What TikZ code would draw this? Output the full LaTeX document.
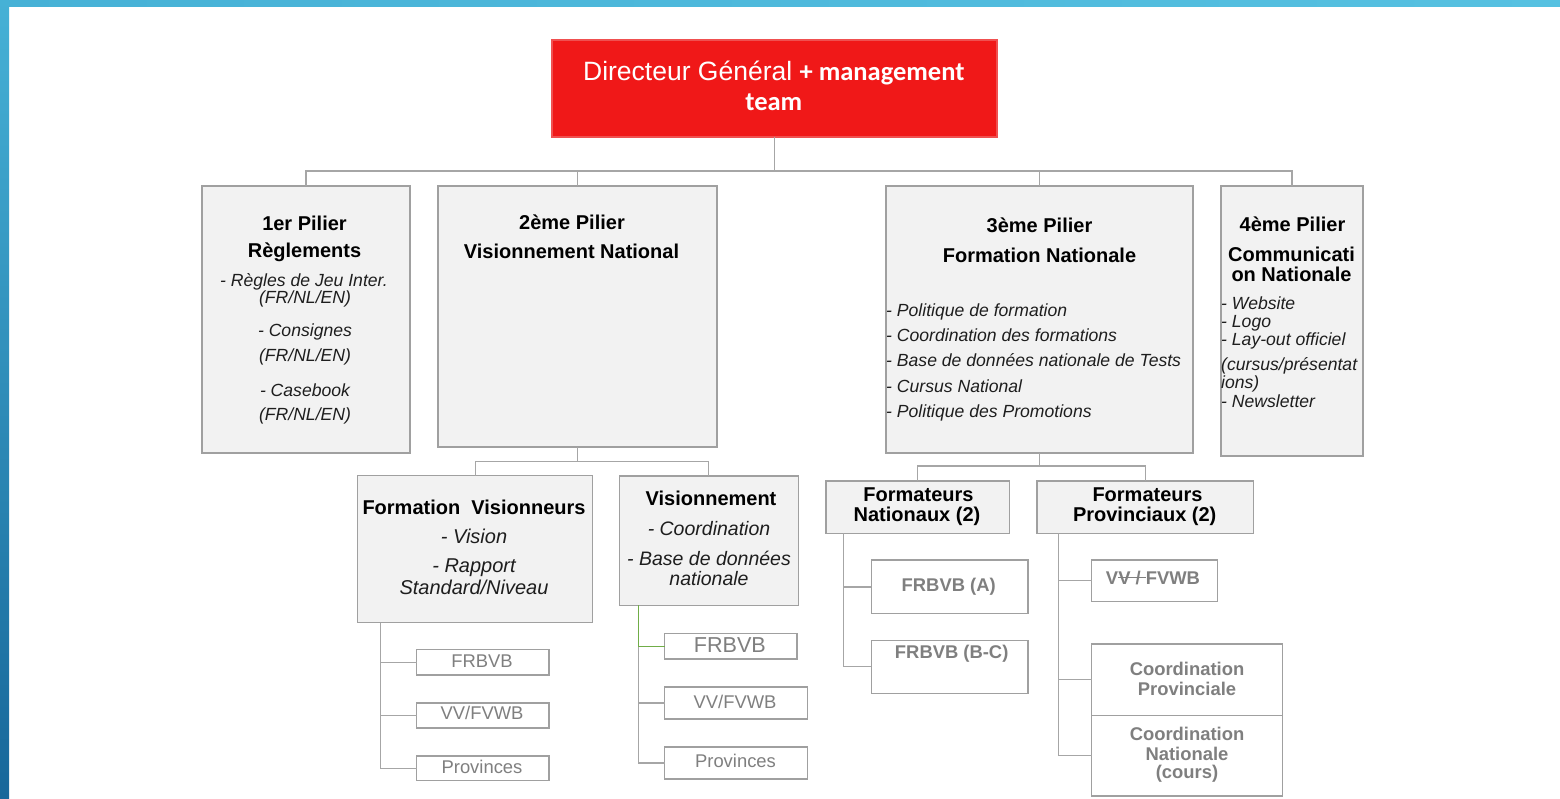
\documentclass[tikz,border=0pt]{standalone}
\usepackage{fontspec}
\setmainfont{Liberation Sans}
\newfontfamily\carlito{Carlito}
\newlength\strklen
\newcommand\strk[1]{\settowidth\strklen{#1}\rlap{\rule[0.33em]{\strklen}{0.07em}}#1}
\newcommand\fsz[1]{\fontsize{#1}{#1}\selectfont}
\definecolor{boxfill}{HTML}{F2F2F2}
\definecolor{boxline}{HTML}{A0A0A0}
\definecolor{connc}{HTML}{A6A6A6}
\definecolor{subc}{HTML}{7F7F7F}
\definecolor{listc}{HTML}{1E1E1E}
\definecolor{dgred}{HTML}{F01818}
\definecolor{dgline}{HTML}{F05050}
\definecolor{gconn}{HTML}{70AD47}
\definecolor{blueA}{HTML}{46B1D6}
\definecolor{blueB}{HTML}{56C1E1}
\definecolor{blueC}{HTML}{17679A}
\begin{document}
\begin{tikzpicture}[x=1pt,y=-1pt,
  box/.style={draw=boxline, fill=boxfill, line width=1.3pt, anchor=north west, inner sep=0pt, outer sep=0pt},
  wbox/.style={box, fill=white},
  conn/.style={draw=connc, line width=1.3pt},
  gline/.style={draw=gconn, line width=1.3pt},
  ttl/.style={anchor=base, inner sep=0pt, font=\fsz{20}\bfseries, text=black},
  itc/.style={anchor=base, inner sep=0pt, font=\fsz{17.6}\itshape, text=listc},
  itl/.style={itc, anchor=base west},
  itb/.style={itc, font=\fsz{20}\itshape},
  sub/.style={anchor=base, inner sep=0pt, font=\fsz{18.4}, text=subc},
  subb/.style={sub, font=\fsz{18.4}\bfseries},
]
\useasboundingbox (0,0) rectangle (1560,798);
\fill[white] (0,0) rectangle (1560,798);
% frame strips
\shade[left color=blueA, right color=blueB] (0,0) rectangle (1560,6);
\shade[top color=blueA, bottom color=blueC] (0,0) rectangle (9,798);

% boxes
\node[box, fill=dgred, draw=dgline, minimum width=445pt, minimum height=97pt] (dg) at (552,40) {};
\node[box, minimum width=208pt, minimum height=267pt] (p1) at (202,186) {};
\node[box, minimum width=279pt, minimum height=261pt] (p2) at (438,186) {};
\node[box, minimum width=307pt, minimum height=267pt] (p3) at (886,186) {};
\node[box, minimum width=142pt, minimum height=270pt] (p4) at (1221,186) {};
\node[box, minimum width=235pt, minimum height=147pt] (fv) at (357.7,475.7) {};
\node[box, minimum width=179pt, minimum height=129.3pt] (vn) at (619.3,476) {};
\node[box, minimum width=183.3pt, minimum height=52.3pt] (fn) at (826,481) {};
\node[box, minimum width=216.7pt, minimum height=52.3pt] (fp) at (1037,481) {};

\node[wbox, minimum width=132.3pt, minimum height=25.3pt] (fv1) at (416.7,649.7) {};
\node[wbox, minimum width=132.3pt, minimum height=25pt] (fv2) at (416.7,703) {};
\node[wbox, minimum width=132.3pt, minimum height=24.7pt] (fv3) at (416.7,756) {};
\node[wbox, minimum width=132.3pt, minimum height=25.7pt] (vn1) at (664.7,633.3) {};
\node[wbox, minimum width=143pt, minimum height=32pt] (vn2) at (664.7,687) {};
\node[wbox, minimum width=143pt, minimum height=32pt] (vn3) at (664.7,747) {};
\node[wbox, minimum width=156.7pt, minimum height=53.7pt] (fn1) at (871.3,560) {};
\node[wbox, minimum width=156.7pt, minimum height=53pt] (fn2) at (871.3,640.3) {};
\node[wbox, minimum width=125.6pt, minimum height=41.3pt] (fp1) at (1091.7,560) {};
\node[wbox, minimum width=191pt, minimum height=71.3pt] (fp2) at (1091.7,644) {};
\node[wbox, minimum width=191pt, minimum height=80.7pt] (fp3) at (1091.7,715.3) {};

% connectors
\coordinate (j0) at (774.5,171);
\coordinate (j2) at (577.5,461.5);
\coordinate (j3) at (1039.5,466);
\coordinate (fvx) at (380.7,622.7);
\coordinate (vnx) at (638.3,605.3);
\coordinate (fnx) at (843.7,533.3);
\coordinate (fpx) at (1058.7,533.3);
\draw[conn] (dg.south) -- (j0);
\draw[conn] (p1.north) |- (j0);
\draw[conn] (p2.north) |- (j0);
\draw[conn] (p3.north) |- (j0);
\draw[conn] (p4.north) |- (j0);
\draw[conn] (p2.south) -- (j2);
\draw[conn] (fv.north) |- (j2);
\draw[conn] (vn.north) |- (j2);
\draw[conn] (p3.south) -- (j3);
\draw[conn] (fn.north) |- (j3);
\draw[conn] (fp.north) |- (j3);
\draw[conn] (fv1.west) -| (fvx);
\draw[conn] (fv2.west) -| (fvx);
\draw[conn] (fv3.west) -| (fvx);
\draw[conn] (vn3.west) -| (vn1.west -| vnx);
\draw[conn] (vn2.west) -- (vn2.west -| vnx);
\draw[gline] (vn1.west) -| (vnx);
\draw[conn] (fn1.west) -| (fnx);
\draw[conn] (fn2.west) -| (fnx);
\draw[conn] (fp1.west) -| (fpx);
\draw[conn] (fp2.west) -| (fpx);
\draw[conn] (fp3.west) -| (fpx);

% director
\node[anchor=base, inner sep=0pt, text=white] (dgt1) at (773.8,80) {\fsz{26.5}Directeur Général {\carlito\bfseries + management}};
\node[anchor=base, inner sep=0pt, text=white, font=\carlito\bfseries\fsz{26.5}] (dgt2) at (773.8,110) {team};

% pillar 1
\node[ttl] (p1a) at (304.5,230) {1er Pilier};
\node[ttl] (p1b) at (304.5,257.7) {Règlements};
\node[itc] (p1c) at (304,286.7) {- Règles de Jeu Inter.};
\node[itc] (p1d) at (305,303.3) {(FR/NL/EN)};
\node[itc] (p1e) at (305,336.7) {- Consignes};
\node[itc] (p1f) at (305,361.7) {(FR/NL/EN)};
\node[itc] (p1g) at (305,396) {- Casebook};
\node[itc] (p1h) at (305,420.7) {(FR/NL/EN)};

% pillar 2
\node[ttl] (p2a) at (572,229.3) {2ème Pilier};
\node[ttl] (p2b) at (571.5,258.3) {Visionnement National};

% pillar 3
\node[ttl] (p3a) at (1039.5,232.7) {3ème Pilier};
\node[ttl] (p3b) at (1039.5,262.3) {Formation Nationale};
\node[itl] (p3c) at (886,316) {- Politique de formation};
\node[itl] (p3d) at (886,341.7) {- Coordination des formations};
\node[itl] (p3e) at (886,366.7) {- Base de données nationale de Tests};
\node[itl] (p3f) at (886,392) {- Cursus National};
\node[itl] (p3g) at (886,417.3) {- Politique des Promotions};

% pillar 4
\node[ttl] (p4a) at (1292.5,231.7) {4ème Pilier};
\node[ttl] (p4b) at (1291.5,261) {Communicati};
\node[ttl] (p4c) at (1291.5,281.7) {on Nationale};
\node[itl] (p4d) at (1221,309) {- Website};
\node[itl] (p4e) at (1221,327.3) {- Logo};
\node[itl] (p4f) at (1221,345) {- Lay-out officiel};
\node[itl] (p4g) at (1221,370.7) {(cursus/présentat};
\node[itl] (p4h) at (1221,388.3) {ions)};
\node[itl] (p4i) at (1221,407.7) {- Newsletter};

% formation visionneurs
\node[ttl] (fva) at (474,514) {Formation\ \ Visionneurs};
\node[itb] (fvb) at (474,543.3) {- Vision};
\node[itb] (fvc) at (474,572.7) {- Rapport};
\node[itb] (fvd) at (474,594) {Standard/Niveau};

% visionnement
\node[ttl] (vna) at (711,505.7) {Visionnement};
\node[itb, font=\fsz{19.5}\itshape] (vnb) at (709,535) {- Coordination};
\node[itb, font=\fsz{19.5}\itshape] (vnc) at (709,565) {- Base de données};
\node[itb, font=\fsz{19.5}\itshape] (vnd) at (709,585.7) {nationale};

% formateurs
\node[ttl] (fna) at (918.5,501) {Formateurs};
\node[ttl] (fnb) at (917,521.7) {Nationaux (2)};
\node[ttl] (fpa) at (1147.5,501) {Formateurs};
\node[ttl] (fpb) at (1144.7,521.7) {Provinciaux (2)};

% sub boxes texts
\node[sub] (fv1t) at (482,667.3) {FRBVB};
\node[sub] (fv2t) at (482,719.3) {VV/FVWB};
\node[sub] (fv3t) at (482,773.3) {Provinces};
\node[sub, font=\fsz{21.6}] (vn1t) at (729.8,652.7) {FRBVB};
\node[sub] (vn2t) at (735,708.3) {VV/FVWB};
\node[sub] (vn3t) at (735.5,767.3) {Provinces};
\node[subb] (fn1t) at (948.7,591.7) {FRBVB (A)};
\node[subb] (fn2t) at (951.7,658.3) {FRBVB (B-C)};
\node[subb] (fp1t) at (1153,584.3) {V\strk{V / }FVWB};
\node[subb] (fp2a) at (1187,675) {Coordination};
\node[subb] (fp2b) at (1187,695) {Provinciale};
\node[subb] (fp3a) at (1187,740.7) {Coordination};
\node[subb] (fp3b) at (1187,760.7) {Nationale};
\node[subb] (fp3c) at (1187,778) {(cours)};
\end{tikzpicture}
\end{document}
